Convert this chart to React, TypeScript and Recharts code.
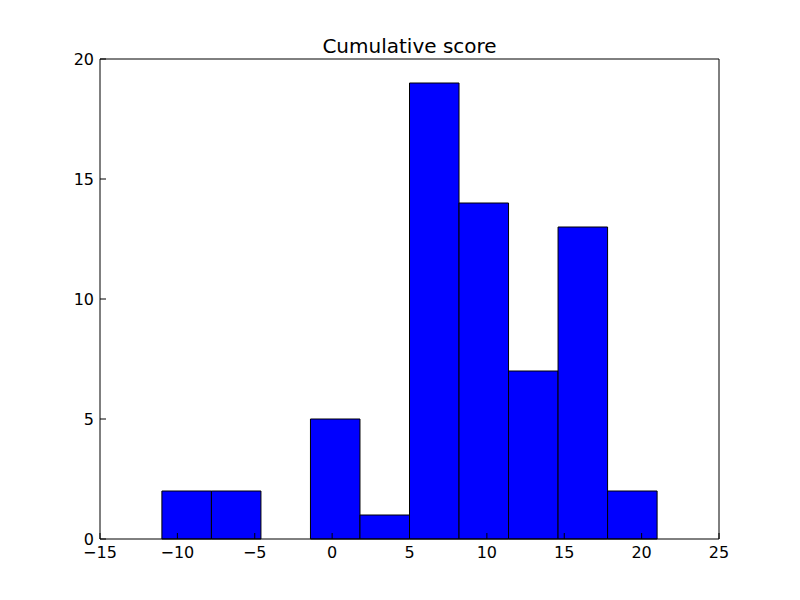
import { ComposedChart, Line, XAxis, YAxis, ReferenceArea } from "recharts";

// histogram bins (edges) and counts per bin
const binEdges = [-11, -7.8, -4.6, -1.4, 1.8, 5.0, 8.2, 11.4, 14.6, 17.8, 21.0];
const counts = [2, 2, 0, 5, 1, 19, 14, 7, 13, 2];
const xTicks = [-15, -10, -5, 0, 5, 10, 15, 20, 25];
const yTicks = [0, 5, 10, 15, 20];

const bins = counts.map((count, i) => ({
  x0: binEdges[i],
  x1: binEdges[i + 1],
  mid: (binEdges[i] + binEdges[i + 1]) / 2,
  count,
}));

const font = "'DejaVu Sans', sans-serif";
const fmt = (v: number) => (v < 0 ? `\u2212${Math.abs(v)}` : `${v}`);

export default function App() {
  return (
    <div
      style={{
        position: "absolute",
        left: 0,
        top: 0,
        width: 800,
        height: 600,
        background: "#fff",
        fontFamily: font,
      }}
    >
      <div
        style={{
          position: "absolute",
          left: 100,
          width: 619,
          top: 34,
          textAlign: "center",
          fontSize: 20,
          lineHeight: "24px",
          color: "#000",
        }}
      >
        Cumulative score
      </div>
      <ComposedChart
        width={800}
        height={600}
        data={bins}
        margin={{ top: 58, right: 80, bottom: 31, left: 0 }}
        style={{ fontFamily: font }}
      >
        <XAxis
          dataKey="mid"
          type="number"
          domain={[-15, 25]}
          ticks={xTicks}
          allowDataOverflow
          height={30}
          tickSize={-6}
          tickMargin={14}
          tickFormatter={fmt}
          tick={{ fill: "#000", fontSize: 16 }}
          axisLine={{ stroke: "#000" }}
          tickLine={{ stroke: "#000" }}
        />
        <XAxis
          xAxisId="top"
          orientation="top"
          type="number"
          domain={[-15, 25]}
          ticks={xTicks}
          height={1}
          tickSize={-6}
          tick={false}
          axisLine={{ stroke: "#000" }}
          tickLine={{ stroke: "#000" }}
        />
        <YAxis
          type="number"
          domain={[0, 20]}
          ticks={yTicks}
          allowDataOverflow
          width={100}
          tickSize={-6}
          tickMargin={12}
          tick={{ fill: "#000", fontSize: 16 }}
          axisLine={{ stroke: "#000" }}
          tickLine={{ stroke: "#000" }}
        />
        <YAxis
          yAxisId="right"
          orientation="right"
          type="number"
          domain={[0, 20]}
          ticks={yTicks}
          width={1}
          tickSize={-6}
          tick={false}
          axisLine={{ stroke: "#000" }}
          tickLine={{ stroke: "#000" }}
        />
        {bins
          .filter((b) => b.count > 0)
          .map((b, i) => (
            <ReferenceArea
              key={i}
              x1={b.x0}
              x2={b.x1}
              y1={0}
              y2={b.count}
              fill="#0000ff"
              fillOpacity={1}
              stroke="#000"
              strokeWidth={1}
              strokeOpacity={1}
            />
          ))}
        <Line
          dataKey="count"
          stroke="none"
          dot={false}
          activeDot={false}
          isAnimationActive={false}
        />
      </ComposedChart>
    </div>
  );
}
